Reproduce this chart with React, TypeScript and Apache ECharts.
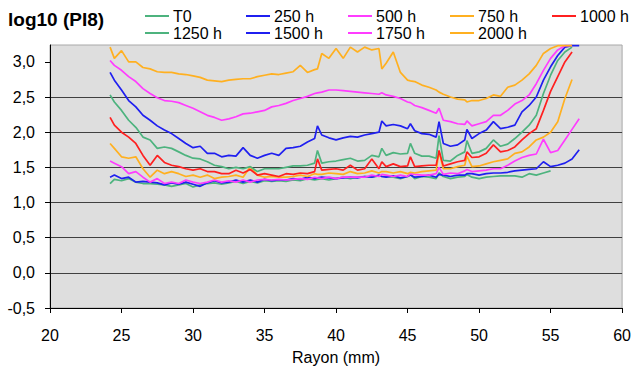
import React, { useEffect, useRef } from "react";
import * as echarts from "echarts";

// Shared radius grid (mm)
const rayon = [
  24.2, 24.5, 25, 25.5, 26, 26.5, 27, 27.5, 28,
  28.5, 29, 29.5, 30, 30.5, 31, 31.5, 32, 32.5, 33, 33.5, 34, 34.5, 35, 35.5, 36,
  36.5, 37, 37.5, 38, 38.5, 38.7, 39, 39.5, 40, 40.5, 41, 41.5, 42, 42.5, 43, 43.2, 43.5,
  44, 44.5, 45, 45.2, 45.5, 46, 46.5, 47, 47.2, 47.5, 48, 48.5, 49, 49.15, 49.5, 50, 50.5, 51, 51.5,
  52, 52.5, 53, 53.5, 54, 54.5, 55, 55.5, 56, 56.5, 57,
];

const t0 = [
  1.27, 1.33, 1.31, 1.34, 1.29, 1.27, 1.27, 1.26, 1.25,
  1.23, 1.25, 1.27, 1.22, 1.25, 1.27, 1.28, 1.26, 1.28, 1.30, 1.27, 1.30, 1.28, 1.31, 1.30, 1.31,
  1.30, 1.32, 1.31, 1.34, 1.32, 1.33, 1.34, 1.32, 1.34, 1.36, 1.34, 1.36, 1.37, 1.36, 1.38, 1.37, 1.37,
  1.36, 1.34, 1.37, 1.40, 1.34, 1.37, 1.36, 1.34, 1.42, 1.37, 1.34, 1.36, 1.37, 1.40, 1.36, 1.34, 1.36, 1.37, 1.38,
  1.38, 1.38, 1.36, 1.41, 1.39, 1.42, 1.45, null, null, null, null,
];

const h250 = [
  1.36, 1.39, 1.34, 1.36, 1.29, 1.30, 1.29, 1.28, 1.25,
  1.28, 1.26, 1.29, 1.26, 1.23, 1.28, 1.31, 1.28, 1.29, 1.32, 1.29, 1.32, 1.29, 1.33, 1.31, 1.32,
  1.32, 1.34, 1.33, 1.36, 1.34, 1.35, 1.36, 1.35, 1.34, 1.35, 1.36, 1.35, 1.37, 1.36, 1.39, 1.37, 1.36,
  1.38, 1.35, 1.37, 1.39, 1.36, 1.37, 1.39, 1.36, 1.40, 1.39, 1.37, 1.39, 1.39, 1.41, 1.41, 1.39, 1.41, 1.42, 1.42,
  1.43, 1.45, 1.46, 1.47, 1.48, 1.58, 1.51, 1.53, 1.56, 1.62, 1.75,
];

const h500 = [
  1.59, 1.56, 1.51, 1.41, 1.44, 1.36, 1.29, 1.34, 1.27,
  1.29, 1.27, 1.32, 1.29, 1.27, 1.29, 1.32, 1.29, 1.31, 1.29, 1.32, 1.29, 1.32, 1.33, 1.32, 1.33,
  1.32, 1.33, 1.34, 1.33, 1.36, 1.35, 1.34, 1.36, 1.34, 1.36, 1.36, 1.36, 1.36, 1.39, 1.37, 1.40, 1.39,
  1.37, 1.39, 1.37, 1.41, 1.40, 1.39, 1.39, 1.41, 1.50, 1.40, 1.42, 1.41, 1.45, 1.47, 1.44, 1.45, 1.46, 1.48, 1.48,
  1.53, 1.59, 1.64, 1.67, 1.69, 1.90, 1.71, 1.74, 1.89, 2.04, 2.19,
];

const h750 = [
  1.84, 1.77, 1.65, 1.63, 1.65, 1.48, 1.36, 1.46, 1.41,
  1.44, 1.41, 1.37, 1.39, 1.36, 1.39, 1.34, 1.36, 1.37, 1.39, 1.36, 1.51, 1.39, 1.36, 1.37, 1.36,
  1.36, 1.37, 1.39, 1.37, 1.41, 1.40, 1.40, 1.42, 1.41, 1.40, 1.44, 1.41, 1.42, 1.45, 1.42, 1.44, 1.44,
  1.42, 1.44, 1.41, 1.43, 1.42, 1.44, 1.45, 1.46, 1.72, 1.48, 1.48, 1.51, 1.53, 1.66, 1.51, 1.52, 1.55, 1.58, 1.60,
  1.62, 1.70, 1.72, 1.79, 1.89, 1.93, 2.00, 2.15, 2.48, 2.75, null,
];

const h1000 = [
  2.21, 2.10, 2.00, 1.93, 1.84, 1.67, 1.53, 1.67, 1.57,
  1.53, 1.51, 1.48, 1.46, 1.48, 1.44, 1.44, 1.41, 1.41, 1.46, 1.42, 1.47, 1.39, 1.41, 1.39, 1.37,
  1.41, 1.40, 1.42, 1.41, 1.44, 1.62, 1.46, 1.47, 1.48, 1.46, 1.53, 1.46, 1.48, 1.62, 1.48, 1.58, 1.51,
  1.55, 1.51, 1.52, 1.65, 1.51, 1.52, 1.53, 1.53, 1.74, 1.52, 1.55, 1.58, 1.60, 1.72, 1.64, 1.65, 1.70, 1.82, 1.72,
  1.74, 1.79, 1.89, 1.98, 2.05, 2.31, 2.58, 2.79, 3.00, 3.14, null,
];

const h1250 = [
  2.53, 2.43, 2.31, 2.17, 2.07, 1.93, 1.89, 1.77, 1.79,
  1.77, 1.72, 1.67, 1.63, 1.62, 1.58, 1.53, 1.51, 1.48, 1.50, 1.48, 1.51, 1.44, 1.48, 1.48, 1.48,
  1.50, 1.52, 1.52, 1.53, 1.56, 1.74, 1.56, 1.58, 1.59, 1.61, 1.63, 1.59, 1.60, 1.67, 1.65, 1.77, 1.67,
  1.71, 1.69, 1.70, 1.84, 1.70, 1.66, 1.66, 1.63, 1.95, 1.60, 1.59, 1.67, 1.72, 1.88, 1.70, 1.72, 1.77, 1.89, 1.80,
  1.83, 1.91, 2.00, 2.10, 2.24, 2.55, 2.81, 3.02, 3.14, 3.21, null,
];

const h1500 = [
  2.85, 2.74, 2.60, 2.45, 2.36, 2.24, 2.17, 2.09, 2.03,
  1.98, 1.91, 1.84, 1.78, 1.80, 1.70, 1.70, 1.65, 1.67, 1.66, 1.78, 1.67, 1.63, 1.67, 1.70, 1.67,
  1.77, 1.78, 1.80, 1.86, 1.91, 2.09, 1.96, 1.92, 1.89, 1.92, 1.94, 1.93, 1.96, 1.98, 2.00, 2.16, 2.09,
  2.11, 2.09, 2.05, 2.12, 2.02, 1.98, 1.97, 1.93, 2.15, 1.84, 1.80, 1.82, 1.89, 2.04, 1.91, 1.98, 2.03, 2.15, 2.05,
  2.07, 2.10, 2.29, 2.38, 2.50, 2.74, 2.93, 3.09, 3.21, 3.23, 3.23,
];

const h1750 = [
  3.02, 2.95, 2.88, 2.79, 2.72, 2.62, 2.55, 2.49, 2.45,
  2.44, 2.42, 2.38, 2.34, 2.29, 2.24, 2.21, 2.17, 2.19, 2.22, 2.26, 2.27, 2.29, 2.31, 2.36, 2.38,
  2.41, 2.45, 2.48, 2.51, 2.55, 2.56, 2.57, 2.60, 2.60, 2.59, 2.58, 2.57, 2.56, 2.55, 2.54, 2.56, 2.53,
  2.51, 2.48, 2.43, 2.42, 2.38, 2.35, 2.31, 2.27, 2.34, 2.17, 2.15, 2.12, 2.11, 2.16, 2.09, 2.12, 2.15, 2.24, 2.24,
  2.31, 2.40, 2.45, 2.53, 2.69, 2.88, 3.05, 3.17, 3.23, 3.23, null,
];

const h2000 = [
  3.21, 3.05, 3.16, 3.00, 3.00, 2.92, 2.90, 2.86, 2.85,
  2.85, 2.83, 2.82, 2.80, 2.78, 2.74, 2.73, 2.72, 2.74, 2.75, 2.76, 2.76, 2.79, 2.81, 2.83, 2.82,
  2.84, 2.86, 2.95, 2.85, 2.89, 2.90, 3.12, 3.05, 3.19, 3.05, 3.21, 3.14, 3.21, 3.17, 3.19, 2.90, 2.98,
  3.14, 2.85, 2.74, 2.73, 2.72, 2.67, 2.64, 2.60, 2.57, 2.54, 2.50, 2.47, 2.46, 2.43, 2.45, 2.45, 2.48, 2.53, 2.51,
  2.64, 2.67, 2.74, 2.83, 2.95, 3.12, 3.19, 3.23, 3.23, 3.23, null,
];

const seriesNames = ["T0", "250 h", "500 h", "750 h", "1000 h", "1250 h", "1500 h", "1750 h", "2000 h"];
const seriesValues = [t0, h250, h500, h750, h1000, h1250, h1500, h1750, h2000];
const seriesColors = [
  "#4db37e", "#1f1ff0", "#ff3cff", "#ffb020", "#ff2020",
  "#4db37e", "#1f1ff0", "#ff3cff", "#ffb020",
];

const xTicks = [20, 25, 30, 35, 40, 45, 50, 55, 60];
const yTicks = [-0.5, 0, 0.5, 1, 1.5, 2, 2.5, 3];

const FONT = "'Liberation Sans', Arial, sans-serif";

export default function App() {
  const ref = useRef<HTMLDivElement>(null);

  useEffect(() => {
    if (!ref.current) return;
    const chart = echarts.init(ref.current, undefined, { renderer: "svg" });

    const legendLeft = [145, 246, 348, 450, 552];
    const legends = seriesNames.map((name, i) => ({
      data: [{ name, icon: "rect" }],
      left: legendLeft[i % 5],
      top: i < 5 ? 8 : 25,
      padding: 0,
      itemWidth: 24,
      itemHeight: 2,
      itemGap: 0,
      selectedMode: false,
      textStyle: { fontSize: 16, color: "#000", fontFamily: FONT, padding: [2, 0, 0, -1] },
    }));

    const option: any = {
      animation: false,
      title: {
        text: "log10 (PI8)",
        left: 8,
        top: 10,
        padding: 0,
        textStyle: { fontSize: 19, fontWeight: "bold", color: "#000", fontFamily: FONT },
      },
      legend: legends,
      grid: {
        left: 50,
        right: 11,
        top: 45,
        bottom: 63,
        show: true,
        backgroundColor: "#dedede",
        borderColor: "#a8a8a8",
        borderWidth: 1,
        containLabel: false,
      },
      xAxis: {
        type: "value",
        min: 20,
        max: 60,
        interval: 5,
        name: "Rayon (mm)",
        nameLocation: "middle",
        nameGap: 41,
        nameTextStyle: { fontSize: 16, color: "#000", fontFamily: FONT },
        axisLine: { show: true, onZero: false, lineStyle: { color: "#000", width: 1 } },
        axisTick: { show: true, inside: false, length: 5, lineStyle: { color: "#000" } },
        axisLabel: {
          fontSize: 16,
          color: "#000",
          fontFamily: FONT,
          margin: 19,
          customValues: xTicks,
          formatter: (v: number) => String(v),
        },
        splitLine: { show: false },
      },
      yAxis: {
        type: "value",
        min: -0.5,
        max: 3.24,
        interval: 0.5,
        axisLine: { show: true, onZero: false, lineStyle: { color: "#000", width: 1 } },
        axisTick: { show: true, inside: false, length: 5, lineStyle: { color: "#000" }, customValues: yTicks },
        axisLabel: {
          fontSize: 16,
          color: "#000",
          fontFamily: FONT,
          margin: 15,
          customValues: yTicks,
          formatter: (v: number) => v.toFixed(1).replace(".", ","),
        },
        splitLine: {
          show: true,
          showMinLine: false,
          showMaxLine: false,
          lineStyle: { color: "#404040", width: 1 },
        },
      },
      series: seriesNames.map((name, i) => ({
        name,
        type: "line",
        data: rayon
          .map((x, j) => [x, seriesValues[i][j]])
          .filter((p) => p[1] !== null && p[1] !== undefined),
        showSymbol: false,
        symbol: "none",
        smooth: false,
        clip: true,
        color: seriesColors[i],
        itemStyle: { color: seriesColors[i] },
        lineStyle: { color: seriesColors[i], width: 1.7 },
        emphasis: { disabled: true },
      })),
    };

    chart.setOption(option);
    return () => chart.dispose();
  }, []);

  return <div ref={ref} style={{ width: 634, height: 371, position: "absolute", left: 0, top: 0 }} />;
}
